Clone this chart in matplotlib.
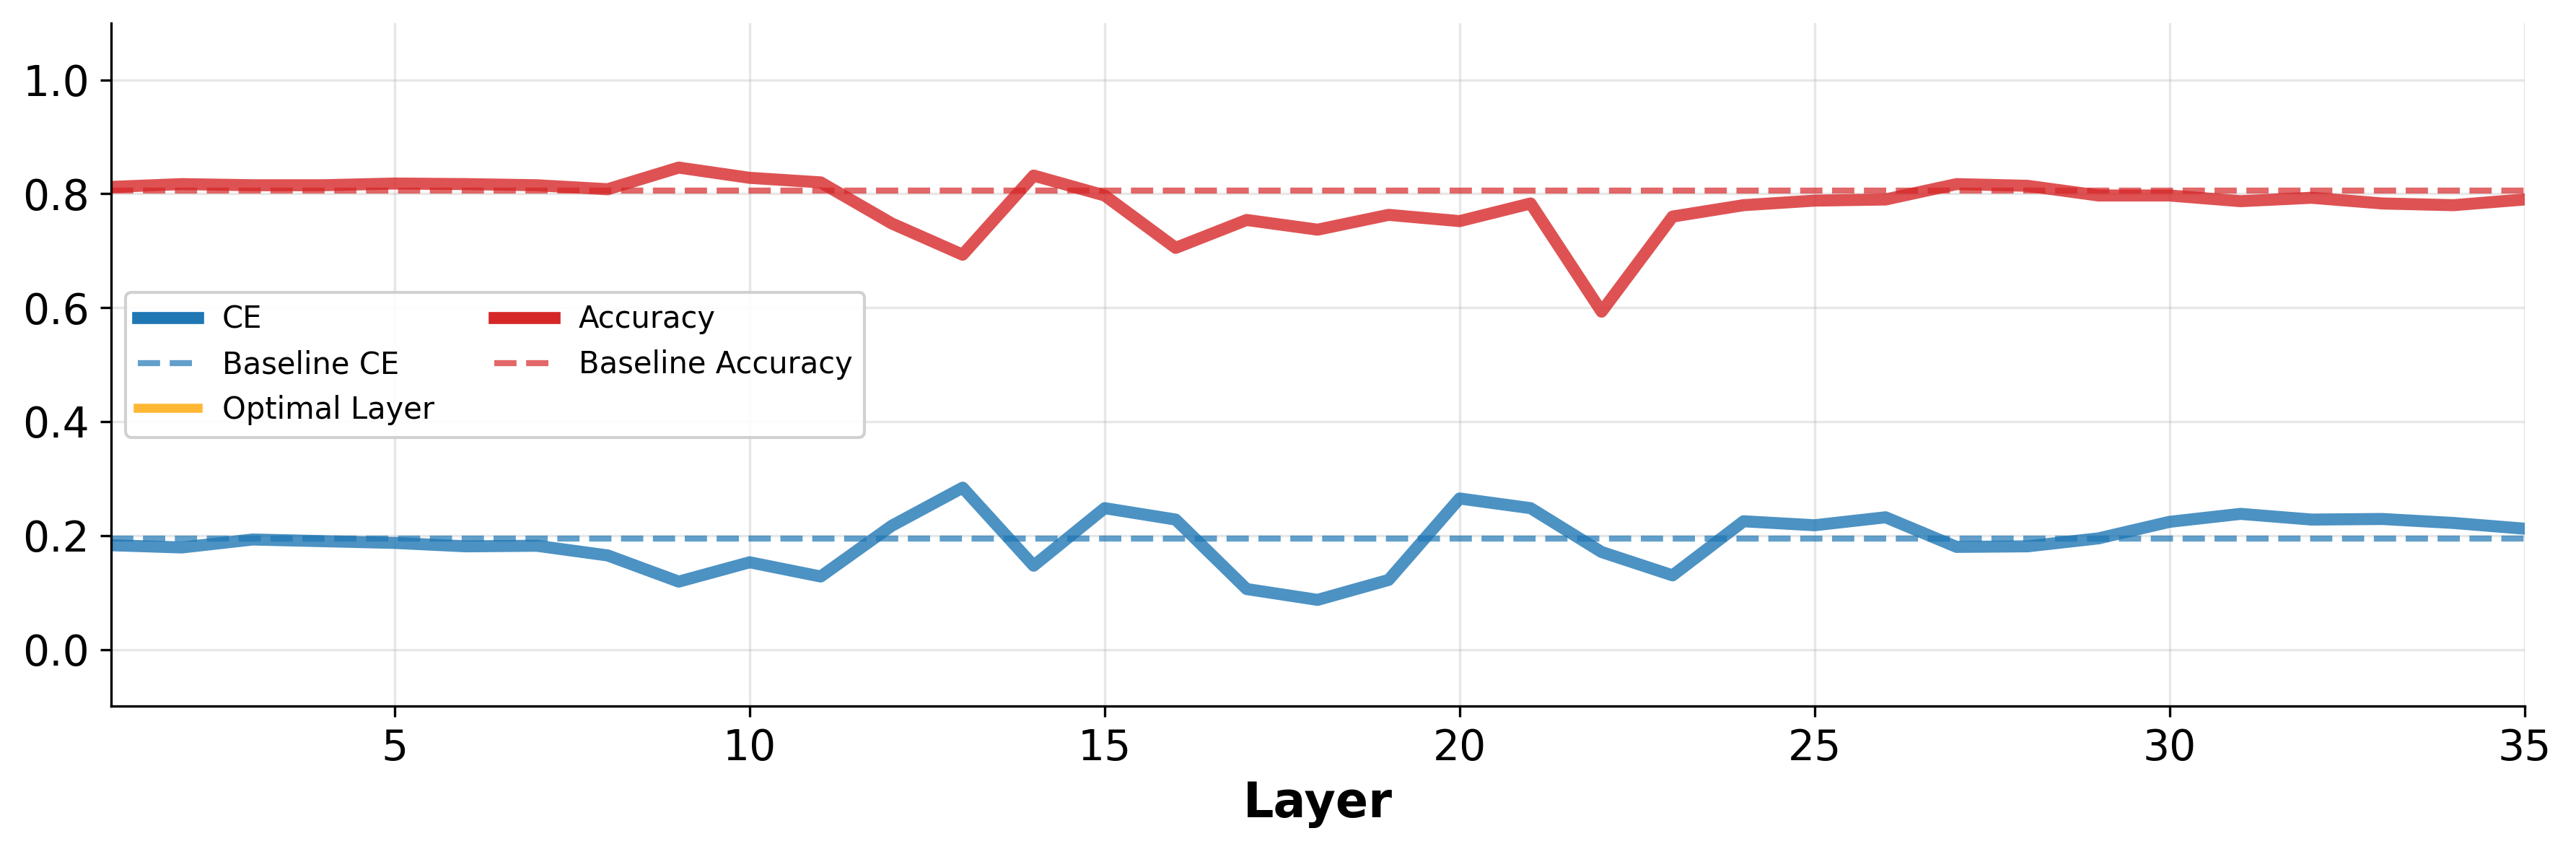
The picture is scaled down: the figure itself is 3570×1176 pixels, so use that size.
import numpy as np
import matplotlib.pyplot as plt
from matplotlib.lines import Line2D

# per-layer values
layers = list(range(1, 36))
ce = [0.183, 0.179, 0.193, 0.190, 0.187, 0.181, 0.182, 0.165, 0.119, 0.153,
      0.128, 0.217, 0.284, 0.147, 0.248, 0.228, 0.106, 0.087, 0.122, 0.265,
      0.248, 0.171, 0.130, 0.225, 0.218, 0.232, 0.180, 0.181, 0.195, 0.224,
      0.238, 0.228, 0.229, 0.222, 0.212]
accuracy = [0.812, 0.817, 0.815, 0.815, 0.818, 0.817, 0.815, 0.808, 0.846, 0.828,
            0.820, 0.748, 0.693, 0.832, 0.797, 0.705, 0.754, 0.737, 0.763, 0.752,
            0.783, 0.593, 0.760, 0.780, 0.788, 0.790, 0.817, 0.814, 0.797, 0.797,
            0.787, 0.793, 0.783, 0.780, 0.790]
baseline_ce = 0.195
baseline_acc = 0.806

ce_color = '#1f77b4'
acc_color = '#d62728'
opt_color = '#FFA500'

fig, ax = plt.subplots(figsize=(11.9, 3.92), dpi=300)
fig.subplots_adjust(left=0.043, right=0.980, top=0.973, bottom=0.168)

ax.plot(layers, ce, color=ce_color, lw=4, alpha=0.8)
ax.axhline(baseline_ce, color=ce_color, ls='--', lw=2, alpha=0.7)
ax.plot(layers, accuracy, color=acc_color, lw=4, alpha=0.8)
ax.axhline(baseline_acc, color=acc_color, ls='--', lw=2, alpha=0.7)

ax.set_xlim(1, 35)
ax.set_ylim(-0.1, 1.1)
ax.set_xticks([5, 10, 15, 20, 25, 30, 35])
ax.set_yticks([0.0, 0.2, 0.4, 0.6, 0.8, 1.0])
ax.tick_params(labelsize=14)
ax.set_xlabel('Layer', fontsize=16, fontweight='bold')
ax.grid(True, alpha=0.3)
ax.spines['top'].set_visible(False)
ax.spines['right'].set_visible(False)

handles = [
    Line2D([], [], color=ce_color, lw=4),
    Line2D([], [], color=ce_color, lw=2, ls='--', alpha=0.7),
    Line2D([], [], color=opt_color, lw=3, alpha=0.8),
    Line2D([], [], color=acc_color, lw=4),
    Line2D([], [], color=acc_color, lw=2, ls='--', alpha=0.7),
]
labels = ['CE', 'Baseline CE', 'Optimal Layer', 'Accuracy', 'Baseline Accuracy']
ax.legend(handles, labels, loc='center left', ncol=2, fontsize=10, framealpha=0.9)

plt.savefig('out.png', dpi=300)
